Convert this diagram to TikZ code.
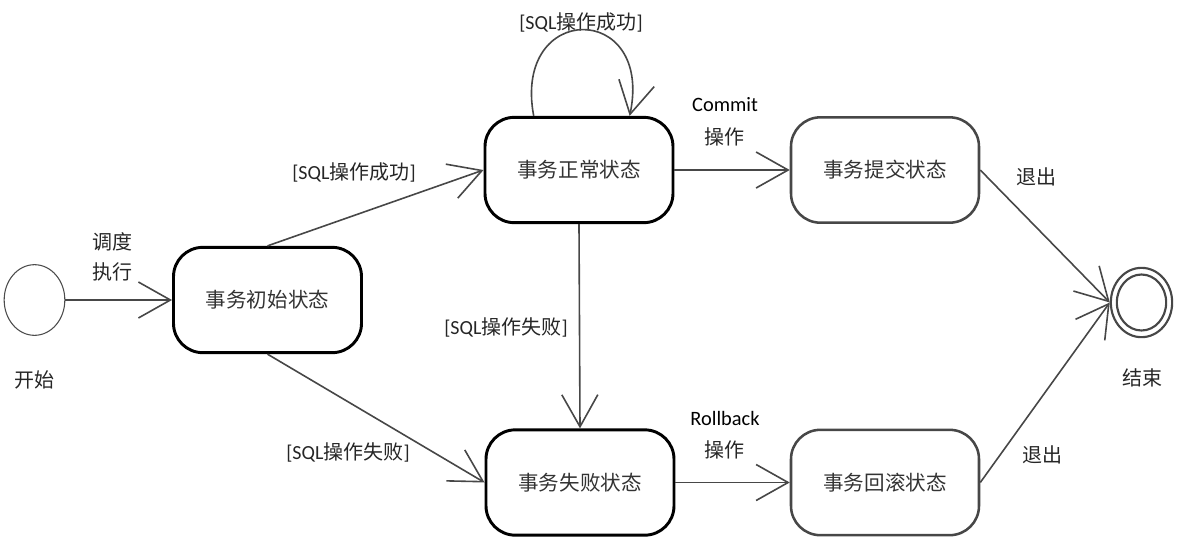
\documentclass[tikz,border=0pt]{standalone}
\usepackage{fontspec}
\setmainfont{Carlito}
\newfontfamily\cjk{Noto Sans CJK SC}
\usetikzlibrary{arrows.meta,shapes.geometric}
\newcommand\sqlpart[1]{{\rmfamily[SQL}#1{\rmfamily]}}
\begin{document}
\begin{tikzpicture}[x=0.75pt,y=-0.75pt,
  state/.style={rectangle, rounded corners=22pt, draw=black, line width=2.2pt,
    minimum width=141pt, minimum height=79pt, inner sep=0pt,
    font=\cjk\fontsize{15.4}{19}\selectfont, text=black!80},
  gstate/.style={state, draw=black!72, line width=1.9pt},
  conn/.style={draw=black!72, line width=1.2pt,
    -{Straight Barb[length=24pt,width=27pt,line width=1.2pt]}},
  lbl/.style={font=\cjk\fontsize{15}{18}\selectfont, inner sep=0pt, text=black!85},
  latlbl/.style={font=\rmfamily\fontsize{15.3}{18}\selectfont, inner sep=0pt}]
\useasboundingbox (0,0) rectangle (1179,544);
% nodes
\node[ellipse, draw=black!70, line width=0.8pt, minimum width=45.5pt, minimum height=53pt, inner sep=0pt] (start) at (34.5,300) {};
\node[state] (init) at (267.5,300) {事务初始状态};
\node[state] (normal) at (579,170) {事务正常状态};
\node[state] (fail) at (580,482.5) {事务失败状态};
\node[gstate] (commit) at (885,170) {事务提交状态};
\node[gstate] (rollback) at (885,482.5) {事务回滚状态};
\node[ellipse, draw=black!72, line width=1.6pt, minimum width=46pt, minimum height=52pt, inner sep=0pt] (end) at (1141.5,302.5) {};
\node[ellipse, draw=black!72, line width=1.6pt, minimum width=37pt, minimum height=42pt, inner sep=0pt] (endin) at (1141.5,302.5) {};
% labels
\node[lbl] (lstart) at (35,380) {开始};
\node[lbl] (lend) at (1142,378) {结束};
\node[lbl] (ld1) at (112,242) {调度};
\node[lbl] (ld2) at (112,272) {执行};
\node[lbl] (lok1) at (354,172) {\sqlpart{操作成功}};
\node[lbl] (lfail1) at (348,452) {\sqlpart{操作失败}};
\node[lbl] (lfail2) at (506,327) {\sqlpart{操作失败}};
\node[lbl] (lok2) at (581,22) {\sqlpart{操作成功}};
\node[latlbl] (lcommit) at (725,105) {Commit};
\node[lbl] (lcop) at (724,137) {操作};
\node[latlbl] (lroll) at (725,418) {Rollback};
\node[lbl] (lrop) at (724,450) {操作};
\node[lbl] (lex1) at (1036,177) {退出};
\node[lbl] (lex2) at (1042,455) {退出};
% connectors
\draw[conn] (start) -- (init);
\draw[conn] (init.north) -- (normal.west);
\draw[conn] (init.south) -- (fail.west);
\draw[conn] (normal.south) -- (fail.north);
\draw[conn] (normal.east) -- (commit.west);
\draw[conn] (fail.east) -- (rollback.west);
\draw[conn] (commit.east) -- (end.west);
\draw[conn] (rollback.east) -- (end.west);
\draw[conn] ([xshift=-34pt]normal.north) .. controls +(-16pt,86pt) and +(18pt,86pt) .. ([xshift=38pt]normal.north);
\end{tikzpicture}
\end{document}
